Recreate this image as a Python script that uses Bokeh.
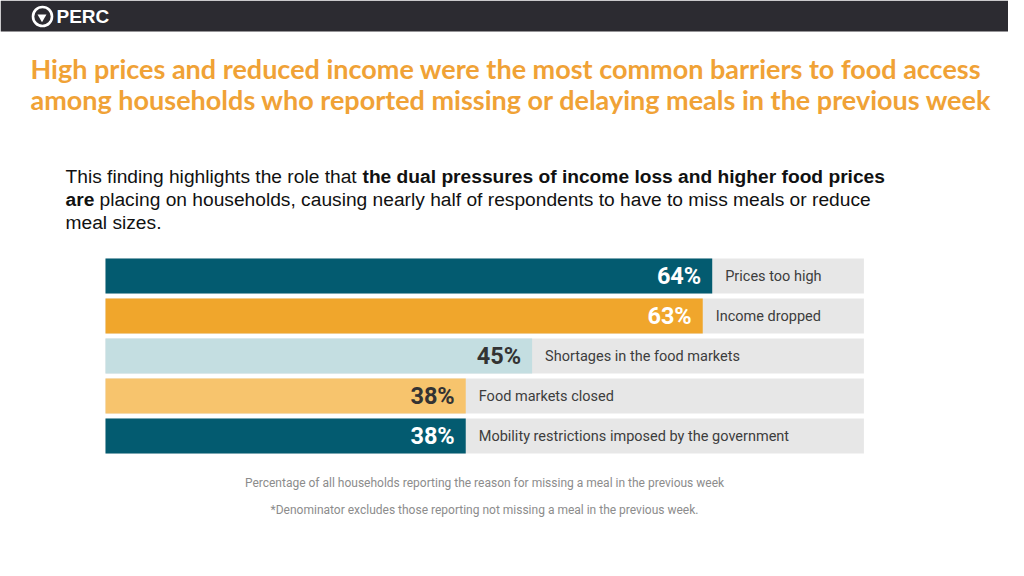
from bokeh.plotting import figure
from bokeh.models import Range1d, Label, BoxAnnotation, ColumnDataSource
from bokeh.core.properties import value
from bokeh.embed import file_html
from bokeh.resources import INLINE

# ---- data ----
categories = ["Prices too high", "Income dropped", "Shortages in the food markets",
              "Food markets closed", "Mobility restrictions imposed by the government"]
values = [64, 63, 45, 38, 38]
bar_colors = ["#035b70", "#f0a62c", "#c4dee1", "#f7c46d", "#035b70"]
pct_colors = ["#ffffff", "#ffffff", "#333333", "#333333", "#ffffff"]
TRACK_MAX = 80  # grey background track extent (percent)

title_lines = ["High prices and reduced income were the most common barriers to food access",
               "among households who reported missing or delaying meals in the previous week"]
foot_lines = ["Percentage of all households reporting the reason for missing a meal in the previous week",
              "*Denominator excludes those reporting not missing a meal in the previous week."]

# ---- coordinate helpers (reference pixel -> data) ----
PX_PER_PCT = 9.48
X0 = 105.0
ROW0 = 275.5
ROW_PITCH = 40.0


def X(px):
    return (px - X0) / PX_PER_PCT


def Y(py):
    return (py - ROW0) / ROW_PITCH


def text_label(px, baseline, text, size, **kw):
    # place a label by its alphabetic baseline using a 'middle' anchor
    return Label(x=X(px), y=Y(baseline - 0.36 * size), text=text,
                 text_font_size=f"{size}px", text_baseline="middle", **kw)


W, H = 1008, 560
p = figure(width=W, height=H, output_backend="svg", toolbar_location=None,
           x_range=Range1d(X(0), X(W)), y_range=Range1d(Y(H), Y(0)),
           x_axis_location=None, y_axis_location=None, min_border=0,
           outline_line_color=None, background_fill_color="white")
p.grid.visible = False

# header bar
p.add_layout(BoxAnnotation(bottom=Y(31), fill_color="#2c2b31", fill_alpha=1,
                           line_color=None, level="underlay"))
p.scatter([X(42)], [Y(16)], marker="circle", size=19, fill_color=None,
          line_color="white", line_width=2.6)
p.scatter([X(41.5)], [Y(16.5)], marker="inverted_triangle", size=9, fill_color="white",
          line_color=None)
p.add_layout(text_label(56, 22.5, "PERC", 19, text_color="white",
                        text_font="Liberation Sans", text_font_style="bold"))

# title
for t, py in zip(title_lines, [78, 109]):
    p.add_layout(text_label(30, py, t, 27, text_color="#f0a236",
                            text_font="Lato", text_font_style="bold"))

# body text with bold segments
body = [
    (65, 183, "This finding highlights the role that", "normal"),
    (362, 183, "the dual pressures of income loss and higher food prices", "bold"),
    (65, 206, "are", "bold"),
    (99, 206, "placing on households, causing nearly half of respondents to have to miss meals or reduce", "normal"),
    (65, 229, "meal sizes.", "normal"),
]
for px, py, t, st in body:
    p.add_layout(text_label(px, py, t, 19.2, text_color="#111111",
                            text_font="Liberation Sans", text_font_style=st))

# bars
idx = list(range(len(categories)))
src = ColumnDataSource(dict(
    idx=idx, val=values, cat=categories, col=bar_colors, pcol=pct_colors,
    track=[TRACK_MAX] * len(values), pct=[f"{v}%" for v in values]))

p.hbar(y="idx", left=0, right="track", height=0.875, source=src,
       fill_color="#e7e7e7", line_color=None)
p.hbar(y="idx", left=0, right="val", height=0.875, source=src,
       fill_color="col", line_color=None)
p.text(x="val", y="idx", text="pct", source=src, x_offset=-11, y_offset=0,
       text_align="right", text_baseline="middle", text_color="pcol",
       text_font=value("Roboto"), text_font_style="bold", text_font_size="23.5px")
p.text(x="val", y="idx", text="cat", source=src, x_offset=13, y_offset=0,
       text_align="left", text_baseline="middle", text_color="#3d3d3d",
       text_font=value("Roboto"), text_font_size="14.5px")

# footnotes
for t, py in zip(foot_lines, [487, 514]):
    p.add_layout(text_label(484, py, t, 12, text_color="#8c8c8c",
                            text_font="Roboto", text_align="center"))

open("out.html", "w").write(file_html(p, INLINE))
